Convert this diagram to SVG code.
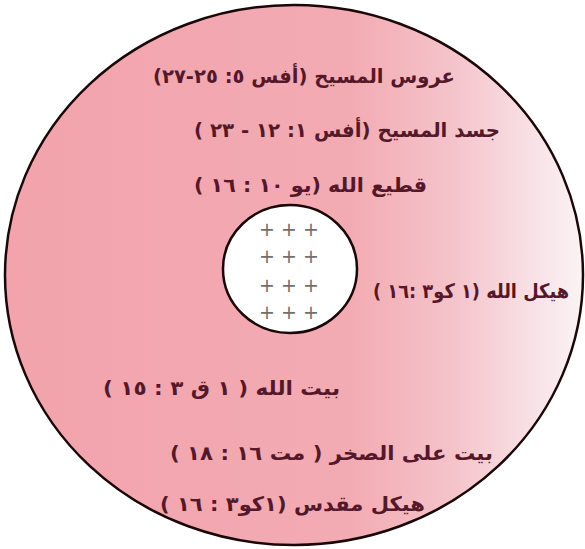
<svg xmlns="http://www.w3.org/2000/svg" width="585" height="549" viewBox="0 0 585 549">
  <defs>
    <linearGradient id="pink" x1="0" y1="0" x2="1" y2="0">
      <stop offset="0" stop-color="#f2a3ac"/>
      <stop offset="0.6" stop-color="#f3abb3"/>
      <stop offset="0.78" stop-color="#f5c4cb"/>
      <stop offset="0.92" stop-color="#f8e3e7"/>
      <stop offset="1" stop-color="#fbf3f5"/>
    </linearGradient>
    <style>
      .lbl { font-family: "DejaVu Sans", sans-serif; font-weight: bold; font-size: 20px; fill: #55182a; direction: rtl; unicode-bidi: embed; }
      .plus { font-family: "DejaVu Sans", sans-serif; font-size: 19px; fill: #6f6f6f; }
    </style>
  </defs>
  <rect width="585" height="549" fill="#ffffff"/>
  <g id="outer">
    <ellipse cx="294" cy="275" rx="289" ry="270" fill="url(#pink)" stroke="#1a0808" stroke-width="2.5"/>
  </g>
  <g id="inner">
    <ellipse cx="290" cy="269" rx="67" ry="64" fill="#ffffff" stroke="#1a0808" stroke-width="2.5"/>
    <text class="plus" x="289" y="236" text-anchor="middle">+ + +</text>
    <text class="plus" x="289" y="263" text-anchor="middle">+ + +</text>
    <text class="plus" x="289" y="292" text-anchor="middle">+ + +</text>
    <text class="plus" x="289" y="319" text-anchor="middle">+ + +</text>
  </g>
  <g id="labels">
    <text class="lbl" x="455" y="83" text-anchor="start" textLength="302" lengthAdjust="spacingAndGlyphs">عروس المسيح (أفس ٥: ٢٥-٢٧)</text>
    <text class="lbl" x="500" y="137" text-anchor="start" textLength="306" lengthAdjust="spacingAndGlyphs">جسد المسيح (أفس ١: ١٢ - ٢٣ )</text>
    <text class="lbl" x="427" y="192" text-anchor="start" textLength="233" lengthAdjust="spacingAndGlyphs">قطيع الله (يو ١٠ : ١٦ )</text>
    <text class="lbl" x="569" y="298" text-anchor="start" textLength="196" lengthAdjust="spacingAndGlyphs">هيكل الله (١ كو٣ :١٦ )</text>
    <text class="lbl" x="340" y="395" text-anchor="start" textLength="237" lengthAdjust="spacingAndGlyphs">بيت الله ( ١ ق ٣ : ١٥ )</text>
    <text class="lbl" x="493" y="460" text-anchor="start" textLength="323" lengthAdjust="spacingAndGlyphs">بيت على الصخر ( مت ١٦ : ١٨ )</text>
    <text class="lbl" x="425" y="511" text-anchor="start" textLength="265" lengthAdjust="spacingAndGlyphs">هيكل مقدس (١كو٣ : ١٦ )</text>
  </g>
</svg>
